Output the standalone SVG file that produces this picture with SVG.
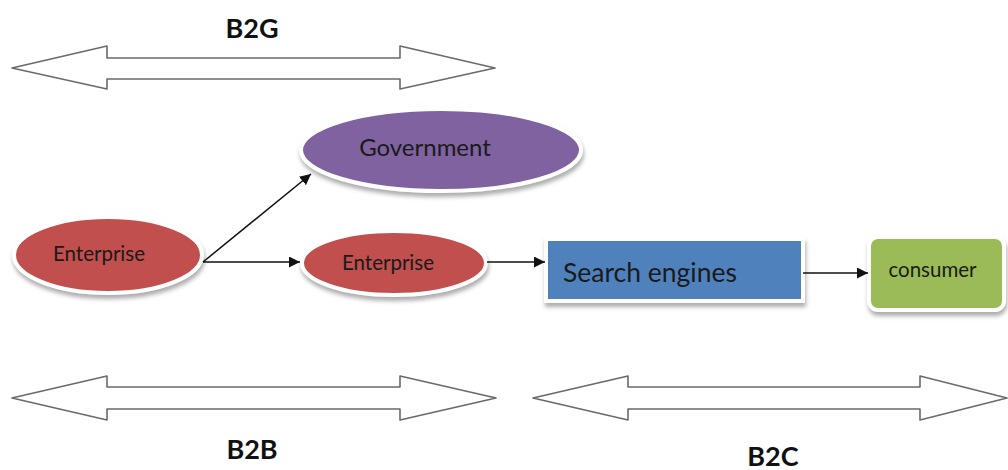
<svg xmlns="http://www.w3.org/2000/svg" width="1008" height="470" viewBox="0 0 1008 470">
<defs>
<style>
.dbl{fill:#fff;stroke:#6a6a6a;stroke-width:1.6;stroke-linejoin:round}
.lbl{font-family:Lato,"Liberation Sans",sans-serif;font-weight:bold;font-size:27px;fill:#111;text-anchor:middle}
.nt{font-family:Lato,"Liberation Sans",sans-serif;fill:#1a1a1a;text-anchor:middle}
.edge{stroke:#111;stroke-width:1.5;fill:none;marker-end:url(#ah)}
.nodeline{stroke:#fff;stroke-width:4}
</style>
<marker id="ah" viewBox="0 0 10 10" refX="10" refY="5" markerWidth="11" markerHeight="11" markerUnits="userSpaceOnUse" orient="auto">
<path d="M0,0 L10,5 L0,10 z" fill="#111"/>
</marker>
<filter id="sh" x="-10%" y="-20%" width="125%" height="150%">
<feDropShadow dx="1" dy="4" stdDeviation="2" flood-color="#777" flood-opacity="0.6"/>
</filter>
</defs>
<g id="arrow-b2g">
<path class="dbl" d="M12,68 L107,46 L107,58 L400,58 L400,46 L495,68 L400,89 L400,79 L107,79 L107,89 Z"/>
<text class="lbl" x="252" y="38">B2G</text>
</g>
<g id="arrow-b2b">
<path class="dbl" d="M12,398 L107,376 L107,387 L400,387 L400,376 L496,398 L400,420 L400,409 L107,409 L107,420 Z"/>
<text class="lbl" x="252" y="459">B2B</text>
</g>
<g id="arrow-b2c">
<path class="dbl" d="M533,398 L628,376 L628,387 L920,387 L920,376 L1007,398 L920,420 L920,409 L628,409 L628,420 Z"/>
<text class="lbl" x="773" y="466">B2C</text>
</g>
<g id="government">
<ellipse class="nodeline" cx="441" cy="150" rx="140" ry="41" fill="#8062A0" filter="url(#sh)"/>
<text class="nt" x="425" y="156" font-size="24">Government</text>
</g>
<g id="enterprise1">
<ellipse class="nodeline" cx="108" cy="255" rx="94" ry="38" fill="#C0504D" filter="url(#sh)"/>
<text class="nt" x="99" y="261" font-size="20.5">Enterprise</text>
</g>
<g id="enterprise2">
<ellipse class="nodeline" cx="394" cy="263" rx="92" ry="32" fill="#C0504D" filter="url(#sh)"/>
<text class="nt" x="388" y="270" font-size="20.5">Enterprise</text>
</g>
<g id="search-engines">
<rect class="nodeline" x="546" y="239" width="257" height="62" fill="#4F81BD" filter="url(#sh)"/>
<text class="nt" x="650" y="282" font-size="26.5">Search engines</text>
</g>
<g id="consumer">
<rect class="nodeline" x="869" y="237" width="135" height="73" rx="9" fill="#9BBB59" filter="url(#sh)"/>
<text class="nt" x="932.5" y="277" font-size="20.5">consumer</text>
</g>
<g id="connectors">
<line class="edge" x1="203" y1="262" x2="300" y2="262"/>
<line class="edge" x1="203" y1="262" x2="311" y2="174"/>
<line class="edge" x1="487" y1="262" x2="545" y2="262"/>
<line class="edge" x1="803" y1="273" x2="868" y2="273"/>
</g>
</svg>
